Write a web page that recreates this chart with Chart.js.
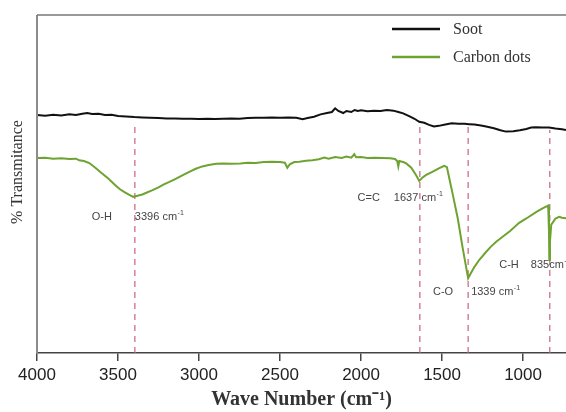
<!DOCTYPE html>
<html>
<head>
<meta charset="utf-8">
<script src="https://cdn.jsdelivr.net/npm/chart.js@4.4.1/dist/chart.umd.min.js"></script>
<style>
  html, body { margin: 0; padding: 0; background: #fff; }
  #wrap { width: 566px; height: 412px; position: relative; }
</style>
</head>
<body>
<div id="wrap"><canvas id="myChart"></canvas></div>
<script>
// x-axis tick labels (wave number, cm-1)
const xTicks = [4000, 3500, 3000, 2500, 2000, 1500, 1000];

// Soot spectrum
const sootWave = [4000, 3950, 3900, 3850, 3800, 3760, 3720, 3690, 3660, 3620, 3580, 3540, 3500, 3450, 3400,
  3350, 3300, 3250, 3200, 3150, 3100, 3050, 3000, 2950, 2900, 2850, 2800, 2750, 2700, 2650, 2600, 2550,
  2500, 2450, 2400, 2360, 2330, 2290, 2250, 2210, 2180, 2160, 2140, 2110, 2090, 2060, 2040, 2020, 2000,
  1960, 1920, 1880, 1840, 1800, 1770, 1740, 1700, 1670, 1641, 1610, 1580, 1550, 1520, 1480, 1440, 1400,
  1360, 1333, 1300, 1260, 1228, 1180, 1140, 1105, 1060, 1020, 980, 950, 920, 880, 840, 800, 760, 735];
const sootT = [70.4, 70.2, 70.5, 70.3, 70.6, 70.4, 70.8, 71.0, 70.7, 70.8, 70.4, 70.5, 70.1, 70.0, 69.8,
  69.7, 69.6, 69.5, 69.4, 69.4, 69.3, 69.3, 69.2, 69.3, 69.2, 69.3, 69.4, 69.3, 69.5, 69.6, 69.6, 69.7,
  69.6, 69.7, 69.6, 69.2, 69.5, 69.9, 70.6, 71.0, 71.3, 72.4, 71.6, 71.0, 71.6, 71.3, 71.9, 71.6, 71.8,
  71.5, 71.7, 71.6, 71.9, 71.7, 71.3, 70.9, 70.0, 69.3, 68.4, 68.1, 67.5, 67.0, 67.2, 67.6, 68.0, 67.8,
  67.8, 67.7, 67.6, 67.3, 67.0, 66.5, 65.9, 65.5, 65.6, 65.9, 66.3, 66.7, 66.8, 66.7, 66.7, 66.4, 66.2, 66.0];

// Carbon dots spectrum
const dotsWave = [4000, 3950, 3900, 3850, 3800, 3760, 3739, 3710, 3677, 3640, 3600, 3560, 3520, 3490, 3460,
  3430, 3406, 3380, 3350, 3325, 3290, 3250, 3220, 3183, 3150, 3100, 3060, 3020, 2980, 2940, 2894, 2850,
  2800, 2745, 2700, 2650, 2600, 2550, 2500, 2470, 2455, 2440, 2412, 2380, 2340, 2300, 2260, 2227, 2200,
  2160, 2120, 2090, 2060, 2042, 2030, 2000, 1960, 1913, 1870, 1820, 1790, 1777, 1770, 1764, 1740, 1721,
  1690, 1660, 1641, 1620, 1598, 1560, 1520, 1487, 1470, 1462, 1433, 1403, 1372, 1339, 1320, 1300, 1271,
  1230, 1200, 1166, 1120, 1080, 1024, 980, 920, 880, 845, 840, 838, 834, 826, 814, 800, 777, 760, 735];
const dotsT = [57.7, 57.8, 57.5, 57.6, 57.4, 57.5, 57.0, 56.8, 56.2, 54.8, 53.2, 51.6, 49.8, 48.5, 47.6,
  46.8, 46.2, 46.5, 46.9, 47.4, 48.1, 49.0, 49.8, 50.6, 51.4, 52.6, 53.6, 54.5, 55.2, 55.6, 56.0, 56.1,
  56.0, 56.1, 56.3, 56.2, 56.5, 56.6, 56.5, 56.3, 54.8, 55.8, 56.5, 56.6, 56.9, 57.0, 57.3, 57.8, 57.5,
  58.0, 57.7, 58.1, 57.8, 58.8, 57.9, 58.0, 57.7, 57.8, 57.7, 57.6, 57.4, 56.8, 55.2, 56.8, 56.5, 56.1,
  54.8, 52.6, 50.9, 51.9, 52.7, 53.6, 54.6, 55.4, 55.0, 53.2, 46.7, 39.8, 30.9, 22.1, 23.8, 25.5, 27.5,
  29.8, 31.4, 32.9, 34.6, 36.1, 38.5, 39.8, 41.7, 42.8, 43.6, 36.0, 27.5, 33.0, 38.0, 38.8, 39.8, 40.3, 40.0, 39.9];

// marked peaks
const peakWave = [3396, 1637, 1339, 835];
const peakBond = ['O-H', 'C=C', 'C-O', 'C-H'];
const peakLabel = ['3396 cm', '1637 cm', '1339 cm', '835cm'];
const peakLineTop = [68.3, 68.3, 67.5, 66.0];

const seriesNames = ['Soot', 'Carbon dots'];
const yTitle = '% Transmitance';
const sootColor = '#111111';
const dotsColor = '#6ea332';

function toPoints(xs, ys) {
  return xs.map((x, i) => ({ x: x, y: ys[i] }));
}

// dashed peak markers, one little dataset each
const peakSets = peakWave.map((w, i) => ({
  label: 'peak ' + w,
  data: [{ x: w, y: 0 }, { x: w, y: peakLineTop[i] }],
  borderColor: '#c9647c',
  borderWidth: 1.2,
  borderDash: [6, 5],
  pointRadius: 0
}));

// frame, legend, y title and peak labels
const decorPlugin = {
  id: 'decor',
  afterDraw(chart) {
    const ctx = chart.ctx;
    const a = chart.chartArea;
    const xs = chart.scales.x, ys = chart.scales.y;
    ctx.save();
    // left and top border
    ctx.strokeStyle = '#8c8c8c';
    ctx.lineWidth = 2;
    ctx.beginPath();
    ctx.moveTo(a.left, a.bottom);
    ctx.lineTo(a.left, a.top);
    ctx.stroke();
    ctx.strokeStyle = '#777';
    ctx.lineWidth = 1.3;
    ctx.beginPath();
    ctx.moveTo(a.left, a.top);
    ctx.lineTo(a.right, a.top);
    ctx.stroke();

    // y title, a bit above the middle like the original
    ctx.save();
    ctx.translate(a.left - 19, a.top + 157);
    ctx.rotate(-Math.PI / 2);
    ctx.fillStyle = '#333';
    ctx.font = '16px "Liberation Serif"';
    ctx.textAlign = 'center';
    ctx.textBaseline = 'middle';
    ctx.fillText(yTitle, 0, 0);
    ctx.restore();

    // legend
    const lx = a.right - 174;
    [sootColor, dotsColor].forEach((c, i) => {
      const y = a.top + 14 + i * 28;
      ctx.strokeStyle = c;
      ctx.lineWidth = 2.5;
      ctx.beginPath();
      ctx.moveTo(lx, y);
      ctx.lineTo(lx + 48, y);
      ctx.stroke();
      ctx.fillStyle = '#333';
      ctx.font = '16px "Liberation Serif"';
      ctx.textBaseline = 'middle';
      ctx.textAlign = 'left';
      ctx.fillText(seriesNames[i], lx + 61, y + 1);
    });

    // peak labels
    const pos = chart.options.plugins.decor.labelPos;
    ctx.fillStyle = '#444';
    ctx.textBaseline = 'middle';
    peakWave.forEach((w, i) => {
      const px = xs.getPixelForValue(w);
      const py = ys.getPixelForValue(pos[i].y);
      ctx.font = '11px "Liberation Sans"';
      ctx.textAlign = 'right';
      ctx.fillText(peakBond[i], px + pos[i].bondDx, py);
      ctx.textAlign = 'left';
      const nx = px + pos[i].numDx;
      ctx.fillText(peakLabel[i], nx, py);
      const tw = ctx.measureText(peakLabel[i]).width;
      ctx.font = '7px "Liberation Sans"';
      ctx.fillText('-1', nx + tw + 0.5, py - 4);
    });
    ctx.restore();
  }
};

new Chart(document.getElementById('myChart'), {
  type: 'line',
  data: {
    datasets: [
      {
        label: seriesNames[0],
        data: toPoints(sootWave, sootT),
        borderColor: sootColor,
        borderWidth: 2,
        pointRadius: 0,
        tension: 0
      },
      {
        label: seriesNames[1],
        data: toPoints(dotsWave, dotsT),
        borderColor: dotsColor,
        borderWidth: 2,
        pointRadius: 0,
        tension: 0
      }
    ].concat(peakSets)
  },
  options: {
    responsive: true,
    maintainAspectRatio: false,
    animation: false,
    layout: { padding: { top: 15, right: 0, left: 0, bottom: 0 } },
    scales: {
      x: {
        type: 'linear',
        reverse: true,
        min: 735,
        max: 4000,
        afterBuildTicks: s => { s.ticks = xTicks.map(v => ({ value: v })); },
        afterFit: s => { s.height = 59; },
        ticks: {
          autoSkip: false,
          maxRotation: 0,
          padding: 4,
          color: '#222',
          font: { family: 'Liberation Sans', size: 17 },
          callback: v => String(v)
        },
        grid: {
          drawOnChartArea: false,
          drawTicks: true,
          tickLength: 8,
          color: '#444',
          lineWidth: 1.5
        },
        border: { color: '#444', width: 1.5 },
        title: {
          display: true,
          text: 'Wave Number (cm\u207B\u00B9)',
          color: '#333',
          font: { family: 'Liberation Serif', size: 20, weight: 'bold' },
          padding: { top: 0, bottom: 0 }
        }
      },
      y: {
        min: 0,
        max: 100,
        afterFit: s => { s.width = 37; },
        ticks: { display: false },
        grid: { display: false },
        border: { display: false }
      }
    },
    plugins: {
      legend: { display: false },
      tooltip: { enabled: false },
      decor: {
        labelPos: [
          { bondDx: -23, numDx: 0, y: 40.3 },
          { bondDx: -40, numDx: -26, y: 45.9 },
          { bondDx: -15, numDx: 3, y: 18.0 },
          { bondDx: -31, numDx: -19, y: 26.0 }
        ]
      }
    }
  },
  plugins: [decorPlugin]
});
</script>
</body>
</html>
